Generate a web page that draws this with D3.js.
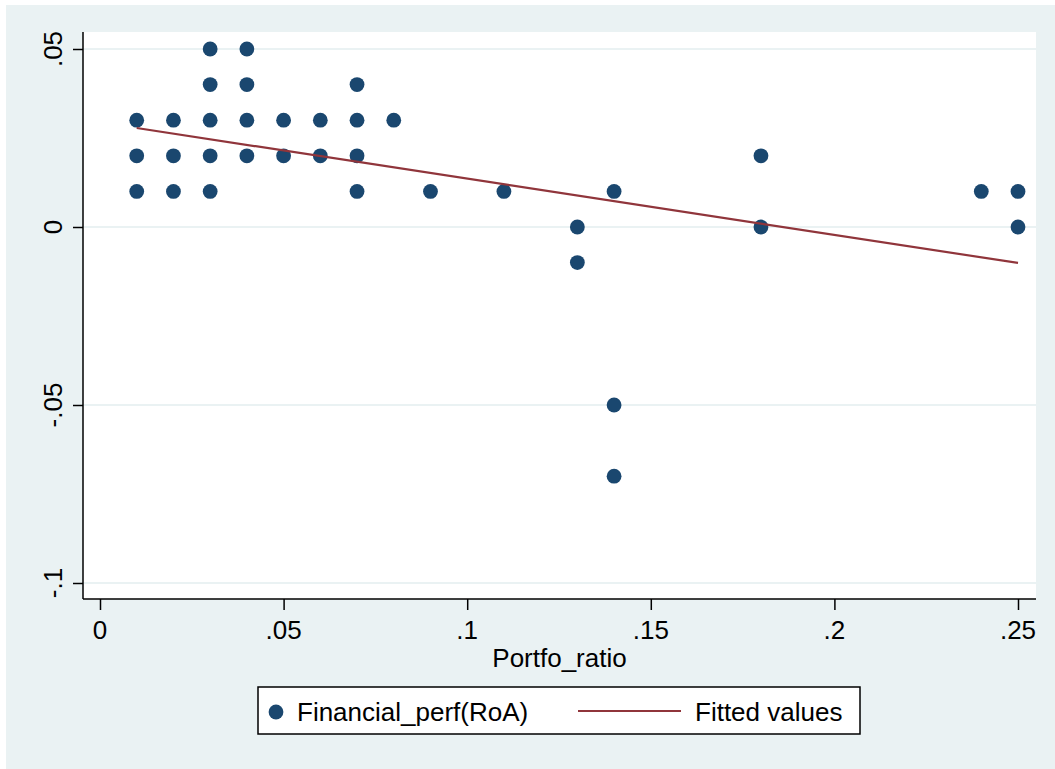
<!DOCTYPE html>
<html>
<head>
<meta charset="utf-8">
<script src="https://cdn.jsdelivr.net/npm/d3@7"></script>
<style>
  body { margin: 0; background: #fff; }
  text { font-family: "Liberation Sans", Arial, sans-serif; fill: #000; }
</style>
</head>
<body>
<div id="chart"></div>
<script>
const width = 1055;
const height = 769;
const plot = { left: 83, top: 32, right: 1036, bottom: 599 };
const fontSize = "26px";

// scatter points (Portfo_ratio, Financial_perf(RoA))
const portfoRatio = [
  0.01, 0.01, 0.01,
  0.02, 0.02, 0.02,
  0.03, 0.03, 0.03, 0.03, 0.03,
  0.04, 0.04, 0.04, 0.04,
  0.05, 0.05,
  0.06, 0.06,
  0.07, 0.07, 0.07, 0.07,
  0.08, 0.09, 0.11,
  0.13, 0.13,
  0.14, 0.14, 0.14,
  0.18, 0.18,
  0.24,
  0.25, 0.25
];
const financialPerf = [
  0.03, 0.02, 0.01,
  0.03, 0.02, 0.01,
  0.05, 0.04, 0.03, 0.02, 0.01,
  0.05, 0.04, 0.03, 0.02,
  0.03, 0.02,
  0.03, 0.02,
  0.04, 0.03, 0.02, 0.01,
  0.03, 0.01, 0.01,
  0, -0.01,
  0.01, -0.05, -0.07,
  0.02, 0,
  0.01,
  0.01, 0
];

// fitted line endpoints
const fitX = [0.01, 0.25];
const fitY = [0.0278, -0.0101];

const xTicks = [0, 0.05, 0.1, 0.15, 0.2, 0.25];
const xTickLabels = ["0", ".05", ".1", ".15", ".2", ".25"];
const yTicks = [-0.1, -0.05, 0, 0.05];
const yTickLabels = ["-.1", "-.05", "0", ".05"];

const navy = "#1a476f";
const maroon = "#90353b";

const svg = d3.select("#chart")
  .append("svg")
  .attr("width", width)
  .attr("height", height);

// outer background
svg.append("rect")
  .attr("x", 6).attr("y", 5)
  .attr("width", width - 6).attr("height", height - 5)
  .attr("fill", "#eaf2f3");

// plot area
svg.append("rect")
  .attr("x", plot.left).attr("y", plot.top)
  .attr("width", plot.right - plot.left).attr("height", plot.bottom - plot.top)
  .attr("fill", "#fff");

const x = d3.scaleLinear().domain([0, 0.25]).range([100, 1018]);
const y = d3.scaleLinear().domain([-0.1, 0.05]).range([583, 49]);

// gridlines
svg.append("g")
  .selectAll("line")
  .data(yTicks)
  .enter()
  .append("line")
  .attr("x1", plot.left)
  .attr("x2", plot.right)
  .attr("y1", d => y(d))
  .attr("y2", d => y(d))
  .attr("stroke", "#eaf2f3")
  .attr("stroke-width", 2);

// y axis
const yAxis = svg.append("g")
  .attr("transform", `translate(${plot.left},0)`)
  .call(d3.axisLeft(y).tickValues(yTicks).tickSize(10).tickSizeOuter(0).tickFormat(""));
yAxis.select(".domain").attr("d", `M0,${plot.top}V${plot.bottom}`);
yAxis.selectAll("line, path").attr("stroke", "#000").attr("stroke-width", 1.5);

svg.append("g")
  .selectAll("text")
  .data(yTicks)
  .enter()
  .append("text")
  .attr("transform", d => `translate(62,${y(d)}) rotate(-90)`)
  .attr("text-anchor", "middle")
  .style("font-size", fontSize)
  .text((d, i) => yTickLabels[i]);

// x axis
const xAxis = svg.append("g")
  .attr("transform", `translate(0,${plot.bottom})`)
  .call(d3.axisBottom(x).tickValues(xTicks).tickSize(11).tickSizeOuter(0).tickFormat(""));
xAxis.select(".domain").attr("d", `M${plot.left},0H${plot.right}`);
xAxis.selectAll("line, path").attr("stroke", "#000").attr("stroke-width", 1.5);

svg.append("g")
  .selectAll("text")
  .data(xTicks)
  .enter()
  .append("text")
  .attr("x", d => x(d))
  .attr("y", 639)
  .attr("text-anchor", "middle")
  .style("font-size", fontSize)
  .text((d, i) => xTickLabels[i]);

svg.append("text")
  .attr("x", (plot.left + plot.right) / 2)
  .attr("y", 667)
  .attr("text-anchor", "middle")
  .style("font-size", fontSize)
  .text("Portfo_ratio");

// points
svg.append("g")
  .selectAll("circle")
  .data(portfoRatio)
  .enter()
  .append("circle")
  .attr("cx", d => x(d))
  .attr("cy", (d, i) => y(financialPerf[i]))
  .attr("r", 7.4)
  .attr("fill", navy);

// fitted line
svg.append("path")
  .datum(fitX.map((d, i) => [d, fitY[i]]))
  .attr("d", d3.line().x(d => x(d[0])).y(d => y(d[1])))
  .attr("fill", "none")
  .attr("stroke", maroon)
  .attr("stroke-width", 2.2);

// legend
const legend = svg.append("g").attr("id", "legend");
legend.append("rect")
  .attr("x", 258).attr("y", 687)
  .attr("width", 602).attr("height", 47)
  .attr("fill", "#fff")
  .attr("stroke", "#000")
  .attr("stroke-width", 1.5);
legend.append("circle")
  .attr("cx", 276).attr("cy", 712)
  .attr("r", 7.4)
  .attr("fill", navy);
legend.append("text")
  .attr("x", 297).attr("y", 721)
  .style("font-size", fontSize)
  .text("Financial_perf(RoA)");
legend.append("line")
  .attr("x1", 578).attr("x2", 681)
  .attr("y1", 711).attr("y2", 711)
  .attr("stroke", maroon)
  .attr("stroke-width", 2.2);
legend.append("text")
  .attr("x", 695).attr("y", 721)
  .style("font-size", fontSize)
  .text("Fitted values");
</script>
</body>
</html>
